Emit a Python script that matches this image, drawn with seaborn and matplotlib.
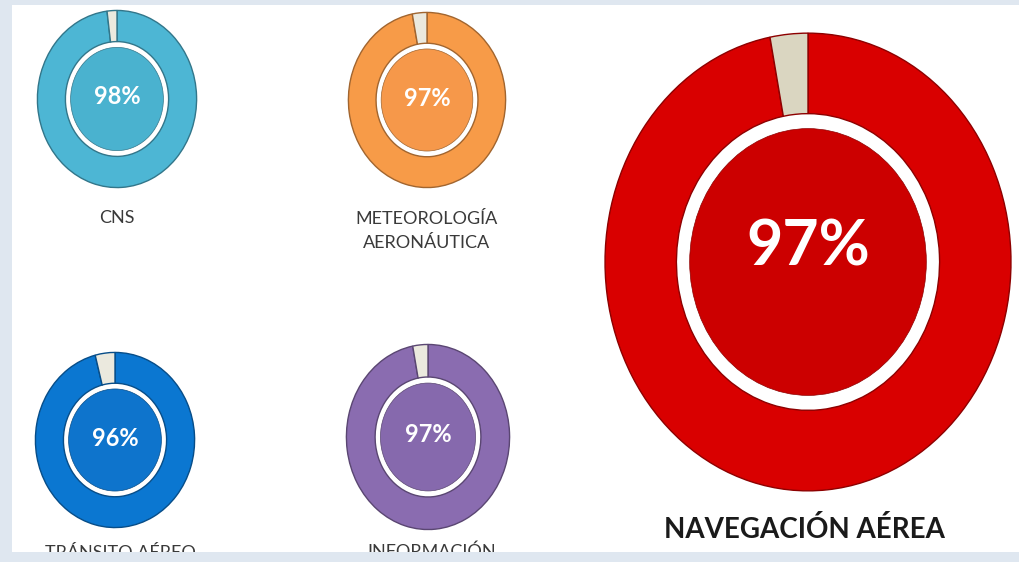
import numpy as np
import seaborn as sns
import matplotlib.pyplot as plt
from matplotlib.colors import to_rgb
from matplotlib.patches import Ellipse, Rectangle

# datos
categorias = ["CNS", "METEOROLOGÍA\nAERONÁUTICA", "TRÁNSITO AÉREO", "INFORMACIÓN", "NAVEGACIÓN AÉREA"]
porcentajes = [98, 97, 96, 97, 97]
etiquetas_pct = ["98%", "97%", "96%", "97%", "97%"]

colores = ["#4db6d4", "#f79b48", "#0b77d1", "#8a6cb0", "#d90000"]
colores_centro = ["#4ab2cf", "#f6984a", "#0e74cc", "#8669ad", "#cc0000"]
colores_hueco = ["#ebe9de", "#ebe9de", "#ebe9de", "#ebe9de", "#dad6c1"]

# layout in pixels: centre x, centre y, radius x, radius y
W, H = 1020, 562
layout = [
    (117, 99, 80, 89),
    (427, 100, 79, 88),
    (115, 440, 80, 88),
    (428, 437, 82, 93),
    (808, 262, 204, 230),
]
label_pos = [(117, 218), (427, 231), (120, 553), (432, 552), (804, 530)]
pct_size = [17, 17, 17, 17, 45]
label_size = [13, 13, 13, 13, 20]


def px(x, y):
    return x / W, 1 - y / H


def main() -> None:
    sns.set_theme(style="white")
    plt.rcParams["font.family"] = ["Lato", "DejaVu Sans"]

    fig = plt.figure(figsize=(W / 100, H / 100), dpi=100, facecolor="#dfe7f0")

    # white panel
    fondo = fig.add_axes([0, 0, 1, 1], zorder=0)
    fondo.set_xlim(0, W)
    fondo.set_ylim(H, 0)
    fondo.axis("off")
    fondo.add_patch(Rectangle((12, 5), W - 12, 547, color="white", lw=0))

    for i, (cat, pct) in enumerate(zip(categorias, porcentajes)):
        cx, cy, rx, ry = layout[i]
        x0, y0 = px(cx - rx, cy + ry)
        ax = fig.add_axes([x0, y0, 2 * rx / W, 2 * ry / H], zorder=1)
        borde = tuple(np.array(to_rgb(colores[i])) * 0.65)
        ax.pie(
            [pct, 100 - pct],
            colors=[colores[i], colores_hueco[i]],
            startangle=90,
            counterclock=False,
            radius=0.995,
            wedgeprops=dict(width=0.35, edgecolor=borde, linewidth=1.0),
        )
        ax.add_patch(Ellipse((0, 0), 1.16, 1.16, facecolor=colores_centro[i],
                             edgecolor=borde, linewidth=0.5))
        ax.set_aspect("auto")
        ax.set_xlim(-1, 1)
        ax.set_ylim(-1, 1)
        ax.axis("off")

        tx, ty = px(cx, cy - (14 if i == 4 else 2))
        fig.text(tx, ty, etiquetas_pct[i], ha="center", va="center", color="white",
                 fontsize=pct_size[i], fontweight="bold", zorder=5)

        lx, ly = label_pos[i]
        lx, ly = px(lx, ly)
        fig.text(lx, ly, cat, ha="center", va="center", fontsize=label_size[i],
                 color="#1a1a1a" if i == 4 else "#3a3a3a",
                 fontweight="bold" if i == 4 else "normal",
                 linespacing=1.6, zorder=5)

    # bottom band drawn on top so the lower labels are cut like the original
    marco = fig.add_axes([0, 0, 1, 1], zorder=10)
    marco.set_xlim(0, W)
    marco.set_ylim(H, 0)
    marco.axis("off")
    marco.add_patch(Rectangle((0, 552), W, 10, color="#dfe7f0", lw=0))

    fig.savefig("out.png", dpi=100, facecolor=fig.get_facecolor())


if __name__ == "__main__":
    main()
